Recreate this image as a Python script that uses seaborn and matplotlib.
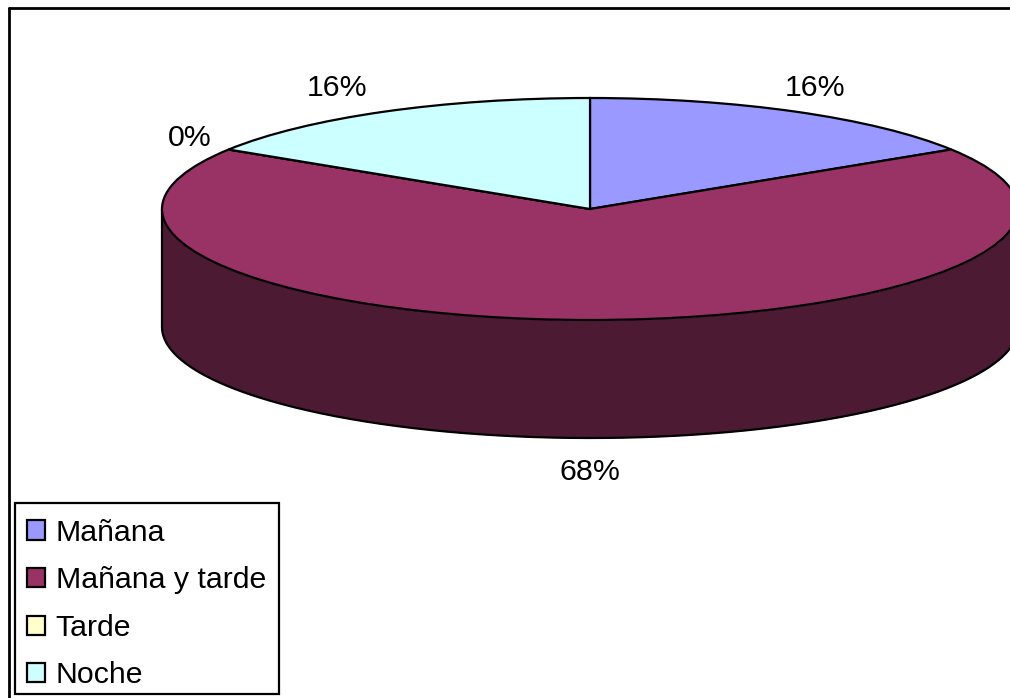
import numpy as np
import matplotlib
matplotlib.use("Agg")
import matplotlib.pyplot as plt
import seaborn as sns

categories = ["Mañana", "Mañana y tarde", "Tarde", "Noche"]
values = [16, 68, 0, 16]
colors = ["#9999FF", "#993366", "#FFFFCC", "#CCFFFF"]
side_color = "#4D1A33"

W, H = 1010, 698
cx, cy = 590, 209
rx, ry = 428, 111
depth = 118 / ry

label_pos = [(815, 87.5), (590, 471.5), (190, 137.5), (337, 87.5)]

sns.set_theme(style="white")
plt.rcParams["font.family"] = ["Liberation Sans", "DejaVu Sans"]

fig = plt.figure(figsize=(W / 100, H / 100), dpi=100, facecolor="white")
ax = fig.add_axes([0, 0, 1, 1])

wedges, _ = ax.pie(values, colors=colors, startangle=90, counterclock=False,
                   wedgeprops={"edgecolor": "black", "linewidth": 1.6}, normalize=True)
ax.set_aspect("auto")
ax.set_xlim(-cx / rx, (W - cx) / rx)
ax.set_ylim(-(H - cy) / ry, cy / ry)

# side wall of the 3d pie
t = np.linspace(np.pi, 2 * np.pi, 300)
x = np.cos(t)
y = np.sin(t)
ax.fill_between(x, y, y - depth, color=side_color, zorder=0, linewidth=0)
ax.plot(x, y - depth, color="black", lw=1.6, zorder=0.5)
ax.plot([-1, -1], [0, -depth], color="black", lw=1.6, zorder=0.5)
ax.plot([1, 1], [0, -depth], color="black", lw=1.6, zorder=0.5)

for v, (px, py) in zip(values, label_pos):
    fig.text(px / W, 1 - py / H, f"{v}%", fontsize=21.8, color="black", ha="center", va="center")

# legend box is drawn by hand, the rows are not centred in it
fig.add_artist(plt.Rectangle((15 / W, 1 - 694 / H), 264 / W, 191 / H, transform=fig.transFigure,
                             facecolor="white", edgecolor="black", lw=1.6, zorder=4))
leg = ax.legend(wedges, categories, loc="lower left",
                bbox_to_anchor=(15 / W, (H - 701) / H), borderaxespad=0,
                fontsize=21.8, frameon=False, labelcolor="black",
                borderpad=0.38, labelspacing=0.647,
                handlelength=0.6, handleheight=0.6, handletextpad=0.37)
leg.set_zorder(5)
for h in leg.get_patches():
    h.set_linewidth(1.6)
ax.set_zorder(5)
ax.patch.set_visible(False)

# outer chart frame, runs off the right and bottom of the picture
fig.add_artist(plt.Line2D([9 / W, 9 / W], [0, 1 - 8 / H], color="black", lw=2))
fig.add_artist(plt.Line2D([9 / W, 1], [1 - 8 / H, 1 - 8 / H], color="black", lw=2))

fig.savefig("out.png", dpi=100)
